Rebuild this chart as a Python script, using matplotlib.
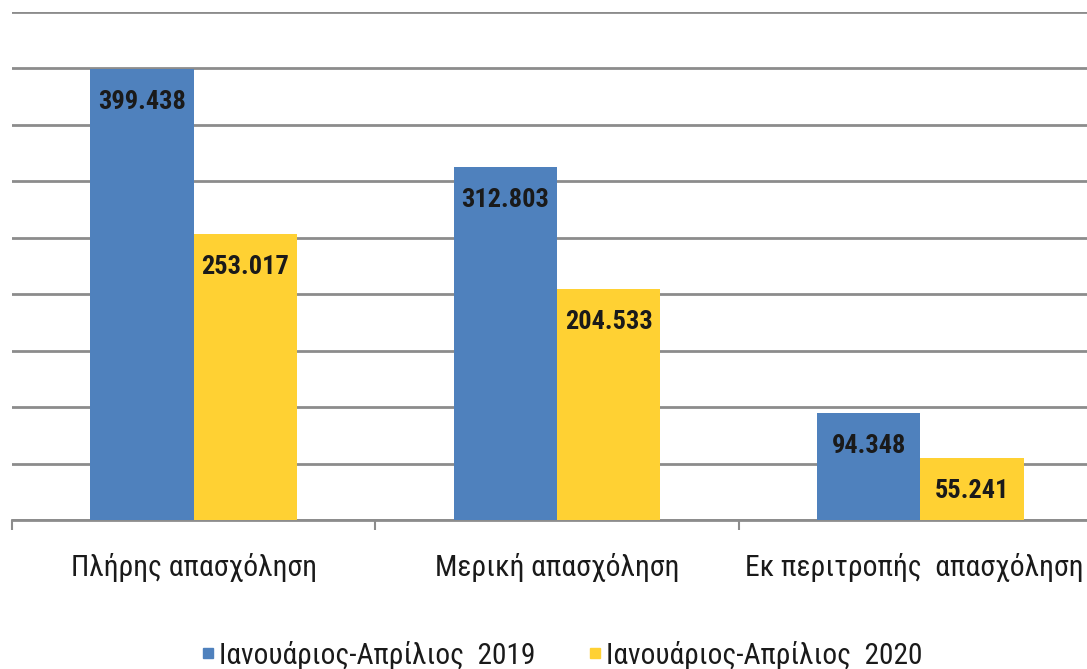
import matplotlib
matplotlib.use("Agg")
import matplotlib.pyplot as plt
import matplotlib.transforms as mtransforms
from matplotlib.lines import Line2D

categories = ["Πλήρης απασχόληση", "Μερική απασχόληση", "Εκ περιτροπής  απασχόληση"]
series_names = ["Ιανουάριος-Απρίλιος  2019", "Ιανουάριος-Απρίλιος  2020"]
values_2019 = [399438, 312803, 94348]
values_2020 = [253017, 204533, 55241]
colors = ["#4F81BD", "#FFD133"]

plt.rcParams['font.family'] = ['Roboto Condensed', 'Liberation Sans', 'DejaVu Sans']
plt.rcParams['font.style'] = 'normal'

def fmt(v):
    return f"{v:,}".replace(",", ".")

fig = plt.figure(figsize=(10.87, 6.69), dpi=100)
W, H = 1087, 669
ax = fig.add_axes([12 / W, (H - 520) / H, 1090 / W, (520 - 12) / H])

x = range(len(categories))
bw = 0.284
for i, (vals, c) in enumerate(zip([values_2019, values_2020], colors)):
    pos = [xi + (i - 0.5) * bw for xi in x]
    ax.bar(pos, vals, width=bw, color=c, zorder=3)
    for p, v in zip(pos, vals):
        ax.annotate(fmt(v), (p, v), xytext=(0, -33), textcoords="offset pixels",
                    ha="center", va="center", fontsize=19, fontweight="bold",
                    color="#1a1a1a", zorder=4)

ax.set_xlim(-0.5, 2.5)
ax.set_ylim(0, 450000)
ax.set_yticks(range(0, 450001, 50000))
ax.yaxis.grid(True, color="#8c8c8c", linewidth=2, zorder=0)
ax.tick_params(axis="y", left=False, labelleft=False)
for s in ["top", "right", "left"]:
    ax.spines[s].set_visible(False)
ax.spines["bottom"].set_color("#8c8c8c")
ax.spines["bottom"].set_linewidth(2)

ax.set_xticks([-0.5, 0.5, 1.5, 2.5])
ax.set_xticklabels([])
ax.tick_params(axis="x", length=7, width=1.5, color="#8c8c8c")
ax.set_xticks(list(x), minor=True)
ax.set_xticklabels(categories, minor=True, fontsize=21.3, color="#1a1a1a")
ax.tick_params(axis="x", which="minor", length=0, pad=24)

# nudge the last category label so it stays inside the figure edge
last = ax.get_xticklabels(minor=True)[-1]
shift = mtransforms.ScaledTranslation(-6 / 100, 0, fig.dpi_scale_trans)
last.set_transform(last.get_transform() + shift)

handles = [Line2D([], [], marker="s", linestyle="none", markersize=7.5,
                  markerfacecolor=c, markeredgecolor=c) for c in colors]
fig.legend(handles, series_names, loc="center", bbox_to_anchor=(560 / W, 1 - 655 / H),
           ncol=2, frameon=False, fontsize=21.2, handletextpad=0.0, columnspacing=1.7,
           handlelength=0.7, labelcolor="#1a1a1a")

fig.savefig("out.png", dpi=100)
